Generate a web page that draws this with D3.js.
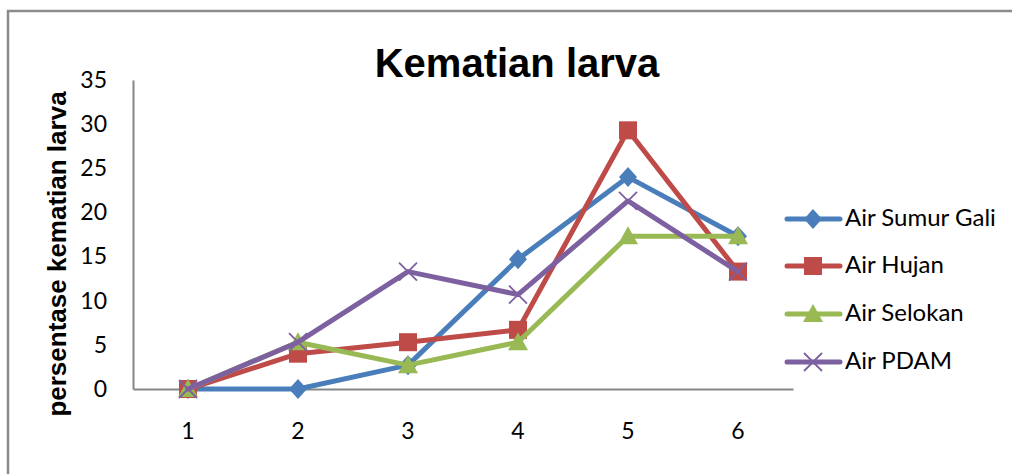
<!DOCTYPE html>
<html><head><meta charset="utf-8">
<script src="https://cdn.jsdelivr.net/npm/d3@7"></script>
<style>body{margin:0;background:#fff}svg{display:block}</style>
</head><body>
<svg id="c" width="1012" height="474"></svg>
<script>
const categories = ["1","2","3","4","5","6"];
const seriesNames = ["Air Sumur Gali","Air Hujan","Air Selokan","Air PDAM"];
const sumurGali = [0, 0, 2.7, 14.7, 24, 17.3];
const hujan = [0, 4, 5.3, 6.7, 29.3, 13.3];
const selokan = [0, 5.3, 2.7, 5.3, 17.3, 17.3];
const pdam = [0, 5.3, 13.3, 10.7, 21.3, 13.3];
const yTicks = [0,5,10,15,20,25,30,35];
const chartTitle = "Kematian larva";
const yTitle = "persentase kematian larva";

const colors = ["#4a7ebb","#be4b48","#98b954","#7d60a0"];
const markers = ["diamond","square","triangle","x"];
const series = [sumurGali, hujan, selokan, pdam];

const svg = d3.select("#c");
svg.append("rect").attr("x",8).attr("y",11).attr("width",1100).attr("height",600)
  .attr("fill","none").attr("stroke","#8c8c8c").attr("stroke-width",2.5);

const pL = 133, pR = 793, pT = 80, pB = 389;
const x = d3.scaleBand().domain(categories).range([pL,pR]);
const y = d3.scaleLinear().domain([0,35]).range([pB,pT]);

const ya = svg.append("g").attr("transform",`translate(${pL},0)`)
  .call(d3.axisLeft(y).tickValues(yTicks).tickSize(0).tickPadding(26));
ya.select(".domain").attr("stroke","#868686").attr("stroke-width",2);
ya.selectAll("text").attr("font-family","Lato").attr("font-size",23).attr("fill","#000");

const xa = svg.append("g").attr("transform",`translate(0,${pB})`)
  .call(d3.axisBottom(x).tickSize(0).tickPadding(34));
xa.select(".domain").attr("stroke","#868686").attr("stroke-width",2);
xa.selectAll("text").attr("font-family","Lato").attr("font-size",23).attr("fill","#000");

svg.append("text").attr("x",517).attr("y",77).attr("text-anchor","middle")
  .attr("font-family","Liberation Sans").attr("font-weight","bold").attr("font-size",40)
  .text(chartTitle);
svg.append("text").attr("transform","translate(66,254) rotate(-90)").attr("text-anchor","middle")
  .attr("font-family","Liberation Sans").attr("font-weight","bold").attr("font-size",26)
  .text(yTitle);

function drawMarker(g, type, cx, cy, color){
  if(type==="diamond"){
    g.append("path").attr("d",`M${cx},${cy-10}L${cx+9},${cy}L${cx},${cy+10}L${cx-9},${cy}Z`).attr("fill",color);
  } else if(type==="square"){
    g.append("rect").attr("x",cx-9).attr("y",cy-9).attr("width",18).attr("height",18).attr("fill",color);
  } else if(type==="triangle"){
    g.append("path").attr("d",`M${cx},${cy-10}L${cx+10},${cy+8}L${cx-10},${cy+8}Z`).attr("fill",color);
  } else {
    g.append("path").attr("d",`M${cx-9},${cy-9}L${cx+9},${cy+9}M${cx+9},${cy-9}L${cx-9},${cy+9}`)
      .attr("stroke",color).attr("stroke-width",1.8).attr("fill","none");
  }
}

const line = d3.line().x((d,i)=>x(categories[i])+x.bandwidth()/2).y(d=>y(d));
series.forEach((vals,si)=>{
  const g = svg.append("g");
  g.append("path").datum(vals).attr("d",line).attr("fill","none")
    .attr("stroke",colors[si]).attr("stroke-width",5).attr("stroke-linejoin","round").attr("stroke-linecap","round");
  vals.forEach((v,i)=>drawMarker(g, markers[si], x(categories[i])+x.bandwidth()/2, y(v), colors[si]));
});

const legY = [219,266,314,362];
seriesNames.forEach((n,i)=>{
  const g = svg.append("g");
  g.append("line").attr("x1",787).attr("x2",840).attr("y1",legY[i]).attr("y2",legY[i])
    .attr("stroke",colors[i]).attr("stroke-width",5).attr("stroke-linecap","round");
  drawMarker(g, markers[i], 813, legY[i], colors[i]);
  g.append("text").attr("x",845).attr("y",legY[i]+7).attr("font-family","Lato").attr("font-size",24)
    .attr("fill","#000").text(n);
});
</script>
</body></html>
